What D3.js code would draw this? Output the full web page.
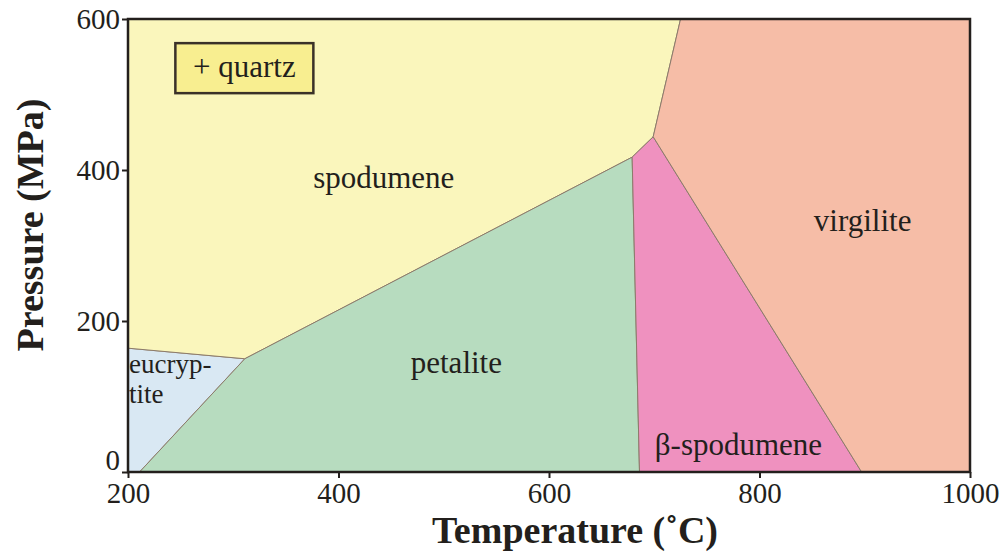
<!DOCTYPE html>
<meta charset="utf-8">
<style>
body { margin: 0; background: #fff; }
.field { stroke: #8c7b6b; stroke-width: 1; }
.axis path, .axis line { stroke: #231f1c; stroke-width: 2; }
</style>
<svg width="1008" height="552"></svg>
<script src="https://d3js.org/d3.v7.min.js"></script>
<script>
var serif = "'Liberation Serif', 'Times New Roman', serif";

// phase fields as [T (degC), P (MPa)] polygons
var fieldNames = ["eucryptite", "spodumene", "petalite", "beta-spodumene", "virgilite"];
var fieldColors = ["#d9e8f3", "#faf6bc", "#b7dcbf", "#ef91bf", "#f6bda7"];
var eucryptite = [[200, 0], [211, 0], [311, 150], [200, 164]];
var spodumene = [[200, 164], [311, 150], [679, 417], [699, 444], [725, 600], [200, 600]];
var petalite = [[211, 0], [686, 0], [679, 417], [311, 150]];
var betaSpodumene = [[686, 0], [897, 0], [699, 444], [679, 417]];
var virgilite = [[897, 0], [1000, 0], [1000, 600], [725, 600], [699, 444]];
var polygons = [eucryptite, spodumene, petalite, betaSpodumene, virgilite];

// field labels: text lines, anchor temperature / pressure
var labelLines = [["eucryp-", "tite"], ["spodumene"], ["petalite"], ["\u03b2-spodumene"], ["virgilite"]];
var labelT = [201, 443, 512, 780, 898];
var labelP = [131, 376, 131, 22, 319];
var labelAnchor = ["start", "middle", "middle", "middle", "middle"];
var labelSize = [27, 31, 31, 31, 31];

var xTicks = [200, 400, 600, 800, 1000];
var yTicks = [0, 200, 400, 600];

var svg = d3.select("svg"),
    margin = {top: 19, right: 38, bottom: 80, left: 128},
    width = 1008 - margin.left - margin.right,
    height = 552 - margin.top - margin.bottom,
    g = svg.append("g").attr("transform", "translate(" + margin.left + "," + margin.top + ")");

var x = d3.scaleLinear().domain([200, 1000]).range([0, width]),
    y = d3.scaleLinear().domain([0, 600]).range([height, 0]);

var line = d3.line()
    .x(function(d) { return x(d[0]); })
    .y(function(d) { return y(d[1]); });

g.selectAll(".field")
    .data(polygons)
  .enter().append("path")
    .attr("class", "field")
    .attr("fill", function(d, i) { return fieldColors[i]; })
    .attr("d", function(d) { return line(d) + "Z"; });

// "+ quartz" box
var qbox = g.append("g").attr("transform", "translate(" + x(245) + "," + y(568) + ")");
qbox.append("rect")
    .attr("width", 138).attr("height", 50)
    .attr("fill", "#f8ee90").attr("stroke", "#3a3128").attr("stroke-width", 2.5);
qbox.append("text")
    .attr("x", 69).attr("y", 34)
    .attr("text-anchor", "middle")
    .style("font-family", serif).style("font-size", "31px").style("fill", "#231f1c")
    .text("+ quartz");

g.selectAll(".label")
    .data(labelLines)
  .enter().append("text")
    .attr("class", "label")
    .attr("x", function(d, i) { return x(labelT[i]); })
    .attr("y", function(d, i) { return y(labelP[i]); })
    .attr("text-anchor", function(d, i) { return labelAnchor[i]; })
    .style("font-family", serif)
    .style("font-size", function(d, i) { return labelSize[i] + "px"; })
    .style("fill", "#231f1c")
    .each(function(d) {
      var t = d3.select(this), x0 = t.attr("x");
      d.forEach(function(s, k) {
        t.append("tspan").attr("x", x0).attr("dy", k ? 30 : 0).text(s);
      });
    });

// frame
g.append("rect")
    .attr("width", width).attr("height", height)
    .attr("fill", "none").attr("stroke", "#231f1c").attr("stroke-width", 2.5);

var ax = g.append("g")
    .attr("class", "axis")
    .attr("transform", "translate(0," + height + ")")
    .call(d3.axisBottom(x).tickValues(xTicks).tickFormat(d3.format("d")).tickSize(6).tickPadding(4));
ax.select(".domain").remove();

var ay = g.append("g")
    .attr("class", "axis")
    .call(d3.axisLeft(y).tickValues(yTicks).tickFormat(d3.format("d")).tickSize(6).tickPadding(2));
ay.select(".domain").remove();
ay.selectAll(".tick text").filter(function(d) { return d === 0; }).attr("dy", "-0.1em");

g.selectAll(".axis text")
    .attr("font-family", null).attr("font-size", null)
    .style("font-family", serif).style("font-size", "29px").style("fill", "#231f1c");

svg.append("text")
    .attr("x", 575)
    .attr("y", 543)
    .attr("text-anchor", "middle")
    .style("font-family", serif).style("font-size", "38px").style("font-weight", "bold").style("fill", "#231f1c")
    .text("Temperature (\u02daC)");

svg.append("text")
    .attr("transform", "translate(43,225) rotate(-90)")
    .attr("text-anchor", "middle")
    .style("font-family", serif).style("font-size", "38px").style("font-weight", "bold").style("fill", "#231f1c")
    .text("Pressure (MPa)");
</script>
